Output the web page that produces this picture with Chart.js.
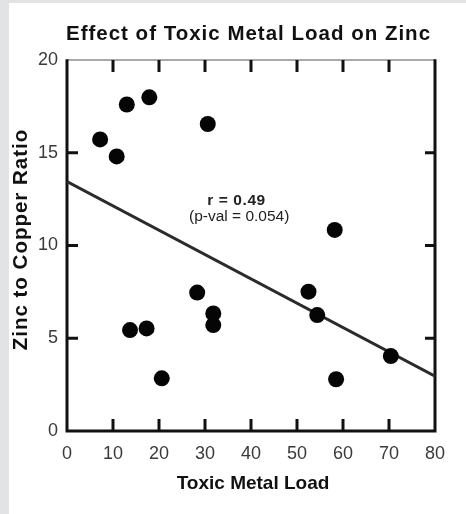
<!DOCTYPE html>
<html><head><meta charset="utf-8">
<script src="https://cdn.jsdelivr.net/npm/chart.js@4"></script>
<style>html,body{margin:0;padding:0;background:#fff;} #wrap{width:466px;height:514px;position:relative}</style>
</head><body><div id="wrap"><canvas id="c" width="466" height="514"></canvas></div>
<script>
const chartTitle = "Effect of Toxic Metal Load on Zinc";
const xAxisTitle = "Toxic Metal Load";
const yAxisTitle = "Zinc to Copper Ratio";
const toxicLoad  = [7.2, 10.8, 13.0, 17.9, 30.6, 58.2, 13.7, 17.3, 20.6, 28.3, 31.8, 31.8, 52.5, 54.4, 58.5, 70.4];
const zincCopper = [15.72, 14.8, 17.6, 17.99, 16.55, 10.84, 5.44, 5.53, 2.84, 7.46, 6.34, 5.71, 7.51, 6.25, 2.79, 4.04];
const trendX = [0, 80];
const trendY = [13.45, 2.95];
const xTicks = [0, 10, 20, 30, 40, 50, 60, 70, 80];
const yTicks = [0, 5, 10, 15, 20];
const annotationLines = ["r = 0.49", "(p-val = 0.054)"];
const annotationAt = [37, 12.0];

const FONT = "'Liberation Sans', Arial, Helvetica, sans-serif";

function spacedText(ctx, text, x, y, spacing) {
  if ('letterSpacing' in ctx) {
    ctx.letterSpacing = spacing + 'px';
    ctx.fillText(text, x + spacing / 2, y);
    ctx.letterSpacing = '0px';
  } else {
    ctx.fillText(text, x, y);
  }
}

const framePlugin = {
  id: 'frame',
  beforeDraw(chart) {
    const ctx = chart.ctx;
    ctx.save();
    ctx.fillStyle = '#ffffff';
    ctx.fillRect(0, 0, chart.width, chart.height);
    ctx.fillStyle = '#e2e3e5';
    ctx.fillRect(0, 0, 9, chart.height);
    ctx.fillRect(0, 0, chart.width, 3);
    ctx.restore();
  },
  beforeDatasetsDraw(chart) {
    const ctx = chart.ctx;
    const a = chart.chartArea;
    const xs = chart.scales.x, ys = chart.scales.y;
    ctx.save();
    ctx.lineCap = 'butt';
    ctx.strokeStyle = '#8c8c8c';
    ctx.lineWidth = 1.5;
    ctx.beginPath(); ctx.moveTo(a.left, a.top); ctx.lineTo(a.right, a.top); ctx.stroke();
    ctx.strokeStyle = '#111';
    ctx.lineWidth = 3;
    ctx.beginPath();
    ctx.moveTo(a.left, a.top - 0.75); ctx.lineTo(a.left, a.bottom + 1.5);
    ctx.moveTo(a.left - 1.5, a.bottom); ctx.lineTo(a.right + 1.5, a.bottom);
    ctx.moveTo(a.right, a.top - 0.75); ctx.lineTo(a.right, a.bottom + 1.5);
    ctx.stroke();
    ctx.beginPath();
    xTicks.slice(1, -1).forEach(v => {
      const px = xs.getPixelForValue(v);
      ctx.moveTo(px, a.top); ctx.lineTo(px, a.top + 12);
      ctx.moveTo(px, a.bottom); ctx.lineTo(px, a.bottom - 12);
    });
    yTicks.slice(1, -1).forEach(v => {
      const py = ys.getPixelForValue(v);
      ctx.moveTo(a.left, py); ctx.lineTo(a.left + 11, py);
      ctx.moveTo(a.right, py); ctx.lineTo(a.right - 10, py);
    });
    ctx.stroke();
    ctx.restore();
  },
  afterDraw(chart) {
    const ctx = chart.ctx;
    const xs = chart.scales.x, ys = chart.scales.y;
    ctx.save();
    ctx.fillStyle = '#111';
    ctx.textAlign = 'center';
    ctx.textBaseline = 'alphabetic';
    ctx.font = 'bold 20.5px ' + FONT;
    spacedText(ctx, chartTitle, 248, 39.5, 1.0);
    ctx.font = 'bold 19px ' + FONT;
    ctx.fillText(xAxisTitle, 253, 489);
    ctx.save();
    ctx.translate(26.5, 240);
    ctx.rotate(-Math.PI / 2);
    ctx.font = 'bold 20.5px ' + FONT;
    spacedText(ctx, yAxisTitle, 0, 0, 1.0);
    ctx.restore();
    const ax = xs.getPixelForValue(annotationAt[0]);
    const ay = ys.getPixelForValue(annotationAt[1]);
    ctx.fillStyle = '#222';
    ctx.textBaseline = 'middle';
    ctx.font = 'bold 15.5px ' + FONT;
    spacedText(ctx, annotationLines[0], ax - 1, ay - 8, 0.6);
    ctx.font = '15.5px ' + FONT;
    ctx.fillText(annotationLines[1], ax + 2, ay + 8);
    ctx.restore();
  }
};

new Chart(document.getElementById('c'), {
  type: 'scatter',
  data: {
    datasets: [
      {
        type: 'line',
        data: trendX.map((x, i) => ({ x, y: trendY[i] })),
        borderColor: '#2b2b2b',
        borderWidth: 3,
        pointRadius: 0,
        fill: false,
        order: 2
      },
      {
        data: toxicLoad.map((x, i) => ({ x, y: zincCopper[i] })),
        backgroundColor: '#050505',
        borderColor: '#050505',
        borderWidth: 0,
        pointRadius: 8,
        pointHoverRadius: 8,
        order: 1
      }
    ]
  },
  options: {
    responsive: false,
    devicePixelRatio: 1,
    animation: false,
    events: [],
    layout: { padding: { top: 60, right: 31, left: 0, bottom: 0 } },
    plugins: { legend: { display: false }, title: { display: false }, tooltip: { enabled: false } },
    scales: {
      x: {
        type: 'linear', min: 0, max: 80,
        afterBuildTicks: s => { s.ticks = xTicks.map(v => ({ value: v })); },
        afterFit: s => { s.height = 83; },
        grid: { display: false, drawTicks: false },
        border: { display: false },
        ticks: { font: { family: FONT, size: 18 }, color: '#3a3a3a', padding: 12, maxRotation: 0, autoSkip: false }
      },
      y: {
        type: 'linear', min: 0, max: 20,
        afterBuildTicks: s => { s.ticks = yTicks.map(v => ({ value: v })); },
        afterFit: s => { s.width = 67; },
        grid: { display: false, drawTicks: false },
        border: { display: false },
        ticks: { font: { family: FONT, size: 18 }, color: '#3a3a3a', padding: 9, autoSkip: false }
      }
    }
  },
  plugins: [framePlugin]
});
</script>
</body></html>
